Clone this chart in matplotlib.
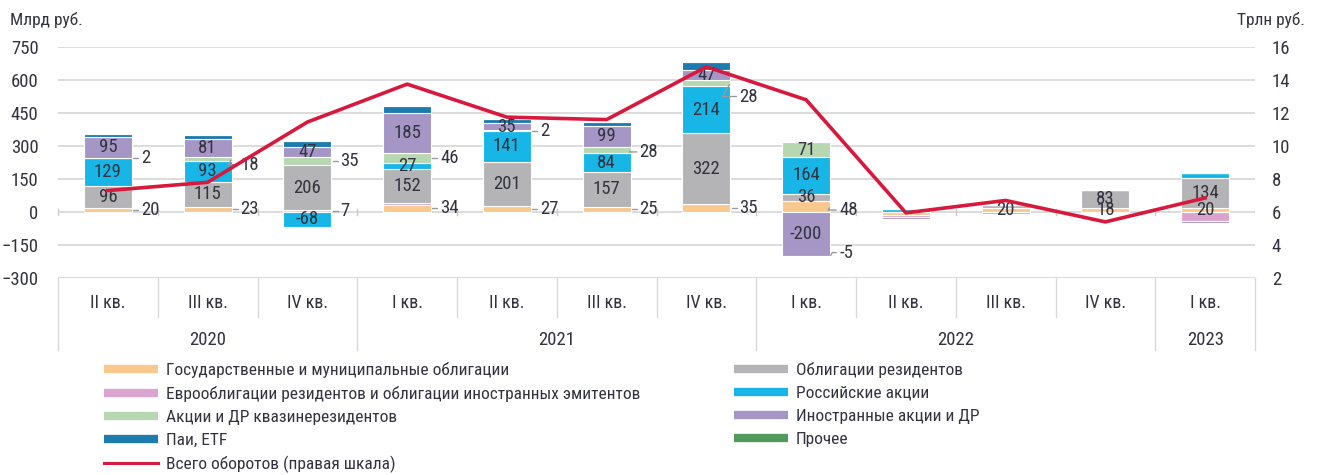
import matplotlib
matplotlib.use('Agg')
import matplotlib.pyplot as plt
from matplotlib import font_manager
from matplotlib.lines import Line2D
import numpy as np

# data (bln rub, left axis; trln rub, right axis)
quarters = ['II кв.', 'III кв.', 'IV кв.', 'I кв.', 'II кв.', 'III кв.', 'IV кв.',
            'I кв.', 'II кв.', 'III кв.', 'IV кв.', 'I кв.']
years = ['2020', '2021', '2022', '2023']
year_spans = [(0, 2), (3, 6), (7, 10), (11, 11)]

gov = [20, 23, 7, 34, 27, 25, 35, 48, -12, 20, 18, 20]
euro = [0, 0, 0, 8, 0, 0, 0, 0, -10, -10, -6, -40]
res = [96, 115, 206, 152, 201, 157, 322, 36, 0, 12, 83, 134]
ru = [129, 93, -68, 27, 141, 84, 214, 164, 14, 0, 0, 22]
quasi = [2, 18, 35, 46, 2, 28, 28, 71, 0, 0, 0, 0]
foreign = [95, 81, 47, 185, 35, 99, 47, -200, -10, -4, 0, -8]
etf = [12, 22, 28, 30, 15, 18, 38, -5, 0, 0, 0, 0]
other = [0] * 12
total = [7.3, 7.8, 11.45, 13.75, 11.75, 11.6, 14.8, 12.8, 5.95, 6.7, 5.4, 6.85]

names = ['Государственные и муниципальные облигации',
         'Еврооблигации резидентов и облигации иностранных эмитентов',
         'Облигации резидентов', 'Российские акции', 'Акции и ДР квазинерезидентов',
         'Иностранные акции и ДР', 'Паи, ETF', 'Прочее']
line_name = 'Всего оборотов (правая шкала)'
colors = ['#f8c88c', '#dca3cf', '#b4b4b6', '#17b6e6', '#b7d7b1', '#a596c6', '#1c7cae', '#4f9a5c']
series = [gov, euro, res, ru, quasi, foreign, etf, other]

# which values are labelled inside the bar / outside with a leader
inside = {2: [0, 1, 2, 3, 4, 5, 6, 7, 10, 11], 3: [0, 1, 2, 3, 4, 5, 6, 7],
          5: [0, 1, 2, 3, 4, 5, 6, 7], 4: [7], 0: [9, 10, 11]}
outside = {0: [0, 1, 2, 3, 4, 5, 6, 7], 4: [0, 1, 2, 3, 4, 5, 6], 6: [7]}
outside_shift = {(4, 6): -60, (0, 7): -15, (6, 7): 18, (4, 1): -25, (4, 5): -7}

font = 'DejaVu Sans'
for f in ['Liberation Sans Narrow', 'Roboto Condensed', 'DejaVu Sans Condensed', 'Roboto']:
    try:
        font_manager.findfont(f, fallback_to_default=False)
        font = f
        break
    except Exception:
        pass
plt.rcParams['font.family'] = [font, 'DejaVu Sans']

txt = '#333340'
fig = plt.figure(figsize=(13.2, 4.75), dpi=100)
ax = fig.add_axes([58 / 1320, 1 - 278 / 475, 1197 / 1320, 231 / 475])
ax2 = ax.twinx()

x = np.arange(len(quarters))
w = 0.48
pos = np.zeros(len(x))
neg = np.zeros(len(x))
centers = []
for vals, c in zip(series, colors):
    v = np.array(vals, dtype=float)
    bottom = np.where(v >= 0, pos, neg)
    ax.bar(x, v, w, bottom=bottom, color=c, edgecolor='white', linewidth=0.8, zorder=3)
    centers.append(bottom + v / 2)
    pos = pos + np.where(v > 0, v, 0)
    neg = neg + np.where(v < 0, v, 0)

for s, cats in inside.items():
    for i in cats:
        ax.text(x[i], centers[s][i], f'{series[s][i]:g}', ha='center', va='center',
                fontsize=13.5, color=txt, zorder=5)
for s, cats in outside.items():
    for i in cats:
        y0 = centers[s][i]
        y1 = y0 + outside_shift.get((s, i), 0)
        ax.annotate(f'{series[s][i]:g}', xy=(x[i] + w / 2, y0), xytext=(x[i] + 0.33, y1),
                    ha='left', va='center', fontsize=13.5, color=txt, zorder=5,
                    arrowprops=dict(arrowstyle='-', color='#9a9a9a', lw=1,
                                    shrinkA=0, shrinkB=1,
                                    connectionstyle='angle,angleA=0,angleB=60,rad=0'))

ax2.plot(x, total, color='#d6193d', lw=2.6, zorder=6)

ax.set_xlim(-0.5, len(x) - 0.5)
ax.set_ylim(-300, 750)
ax.set_yticks(np.arange(-300, 751, 150))
ax2.set_ylim(2, 16)
ax2.set_yticks(np.arange(2, 17, 2))
ax.grid(axis='y', color='#d9d9d9', lw=1.3, zorder=0)
ax.set_axisbelow(True)
for a in (ax, ax2):
    for sp in a.spines.values():
        sp.set_visible(False)
ax.tick_params(axis='y', length=0, pad=14, labelsize=13.5, labelcolor=txt)
ax2.tick_params(axis='y', length=0, pad=12, labelsize=13.5, labelcolor=txt)
ax.set_xticks([])

# category axis: ticks on zero line, labels and separators below plot
tr = ax.get_xaxis_transform()
for b in np.arange(-0.5, len(x)):
    ax.plot([b, b], [-14, 14], color='#c8c8c8', lw=1, zorder=2)
    is_year = b in (-0.5, 2.5, 6.5, 10.5, 11.5)
    ax.plot([b, b], [0, -0.31 if is_year else -0.17], color='#d9d9d9', lw=1,
            transform=tr, clip_on=False)
for i, q in enumerate(quarters):
    ax.text(x[i], -0.108, q, transform=tr, ha='center', va='center', fontsize=13, color=txt)
for yr, (a, b) in zip(years, year_spans):
    ax.text((a + b) / 2, -0.27, yr, transform=tr, ha='center', va='center', fontsize=13.5, color=txt)

fig.text(10 / 1320, 1 - 20 / 475, 'Млрд руб.', ha='left', va='center', fontsize=12.5, color=txt)
fig.text(1305 / 1320, 1 - 20 / 475, 'Трлн руб.', ha='right', va='center', fontsize=12.5, color=txt)

h = [Line2D([], [], color=c, lw=6, solid_capstyle='butt') for c in colors]
hl = Line2D([], [], color='#d6193d', lw=2.2)
kw = dict(frameon=False, fontsize=12.5, handlelength=3.1, handletextpad=0.45,
          labelspacing=0.45, borderpad=0, borderaxespad=0, loc='upper left',
          labelcolor=txt)
fig.legend([h[0], h[1], h[4], h[6], hl], [names[0], names[1], names[4], names[6], line_name],
           bbox_to_anchor=(104 / 1320, 1 - 362 / 475), **kw)
fig.legend([h[2], h[3], h[5], h[7]], [names[2], names[3], names[5], names[7]],
           bbox_to_anchor=(734 / 1320, 1 - 362 / 475), **kw)

fig.savefig('out.png', dpi=100)
